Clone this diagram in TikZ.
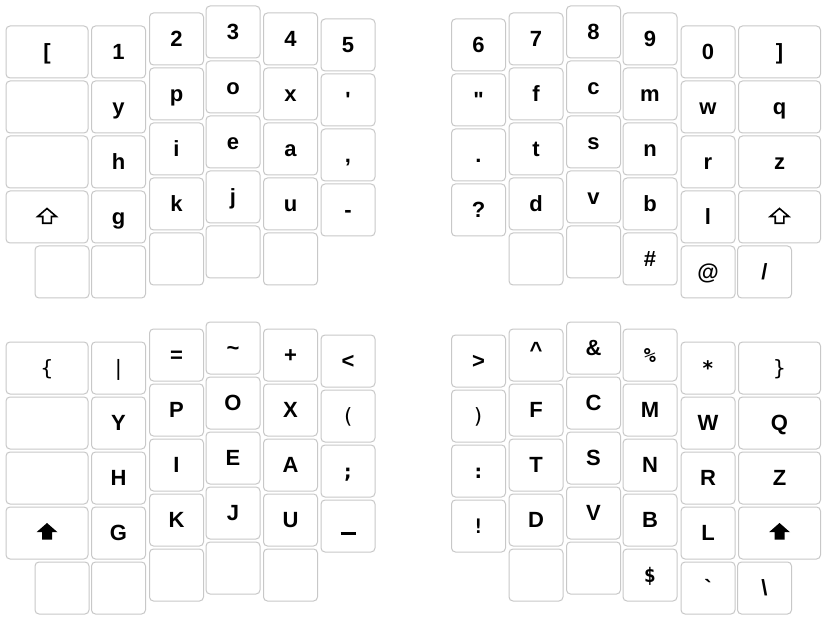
\documentclass[tikz,border=0pt]{standalone}
\usepackage{fontspec}
\setmainfont{Liberation Sans}
\newfontfamily\monof{DejaVu Sans Mono}
\definecolor{keyline}{HTML}{C8C8C8}
\tikzset{
  keybox/.style={draw=keyline, line width=1pt, rounded corners=4pt, fill=white,
    minimum height=52pt, minimum width=54pt, inner sep=0pt,
    font=\fontsize{22}{26}\selectfont\bfseries, text height=15.75pt, text depth=0pt},
  shiftoutline/.style={draw=black, line width=1.6pt, fill=white, line join=miter},
  shiftfilled/.style={fill=black, draw=none}
}
\newcommand\mf[1]{{\monof\mdseries\fontsize{21}{24}\selectfont #1}}
\newcommand\mfb[1]{{\monof\bfseries\fontsize{20}{24}\selectfont #1}}
\newcommand\shiftarrowo[1]{\path[shiftoutline, shift={(#1.center)}]
  (0,-8.5) -- (9.3,-0.5) -- (4.3,-0.5) -- (4.3,6.3) -- (-4.3,6.3) -- (-4.3,-0.5) -- (-9.3,-0.5) -- cycle;}
\newcommand\shiftarrowf[1]{\path[shiftfilled, shift={(#1.center)}]
  (0,-10) -- (10.5,-0.8) -- (5,-0.8) -- (5,6.5) -- (-5,6.5) -- (-5,-0.8) -- (-10.5,-0.8) -- cycle;}
\newcommand\kk[5]{\node[keybox, minimum width=#4pt] (#1) at (#2,#3) {#5};}
\newcommand\cfive[8]{%
  \kk{#1-1}{#2}{#3}{54}{#4}\kk{#1-2}{#2}{#3+55}{54}{#5}\kk{#1-3}{#2}{#3+110}{54}{#6}%
  \kk{#1-4}{#2}{#3+165}{54}{#7}\kk{#1-5}{#2}{#3+220}{54}{#8}}
\newcommand\cfour[8]{%
  \kk{#1-1}{#2}{#3}{#4}{#5}\kk{#1-2}{#2}{#3+55}{#4}{#6}\kk{#1-3}{#2}{#3+110}{#4}{#7}%
  \kk{#1-4}{#2}{#3+165}{#4}{#8}}
\begin{document}
\begin{tikzpicture}[x=1pt,y=-1pt]
\useasboundingbox[fill=white] (0,0) rectangle (827,620);
% top-left
\cfour{tl0}{47}{52}{82}{[}{}{}{}
\kk{tl0-5}{62}{272}{54}{}
\cfive{tl1}{118.5}{52}{1}{y}{h}{g}{}
\cfive{tl2}{176.5}{39}{2}{p}{i}{k}{}
\cfive{tl3}{233}{32}{3}{o}{e}{j}{}
\cfive{tl4}{290.5}{39}{4}{x}{a}{u}{}
\cfour{tl5}{348}{45}{54}{5}{\textquotesingle}{,}{-}
% top-right
\cfour{tr0}{478.5}{45}{54}{6}{\textquotedbl}{.}{?}
\cfive{tr1}{536}{39}{7}{f}{t}{d}{}
\cfive{tr2}{593.5}{32}{8}{c}{s}{v}{}
\cfive{tr3}{650}{39}{9}{m}{n}{b}{\#}
\cfive{tr4}{708}{52}{0}{w}{r}{l}{@}
\cfour{tr5}{779.5}{52}{82}{]}{q}{z}{}
\kk{tr5-5}{764.5}{272}{54}{/}
% bottom-left
\cfour{bl0}{47}{368}{82}{\mf{\{}}{}{}{}
\kk{bl0-5}{62}{588}{54}{}
\cfive{bl1}{118.5}{368}{\mf{\textbar}}{Y}{H}{G}{}
\cfive{bl2}{176.5}{355}{=}{P}{I}{K}{}
\cfive{bl3}{233}{348}{\textasciitilde}{O}{E}{J}{}
\cfive{bl4}{290.5}{355}{+}{X}{A}{U}{}
\cfour{bl5}{348}{361}{54}{\textless}{\mf{(}}{\mfb{;}}{\rule[-1pt]{15pt}{3pt}}
% bottom-right
\cfour{br0}{478.5}{361}{54}{\textgreater}{\mf{)}}{\mfb{:}}{\mfb{!}}
\cfive{br1}{536}{355}{\raisebox{5pt}{\textasciicircum}}{F}{T}{D}{}
\cfive{br2}{593.5}{348}{\&}{C}{S}{V}{}
\cfive{br3}{650}{355}{\mfb{\%}}{M}{N}{B}{\mfb{\$}}
\cfive{br4}{708}{368}{\mfb{*}}{W}{R}{L}{\textasciigrave}
\cfour{br5}{779.5}{368}{82}{\mf{\}}}{Q}{Z}{}
\kk{br5-5}{764.5}{588}{54}{\textbackslash}
% shift arrows
\shiftarrowo{tl0-4}
\shiftarrowo{tr5-4}
\shiftarrowf{bl0-4}
\shiftarrowf{br5-4}
\end{tikzpicture}
\end{document}
